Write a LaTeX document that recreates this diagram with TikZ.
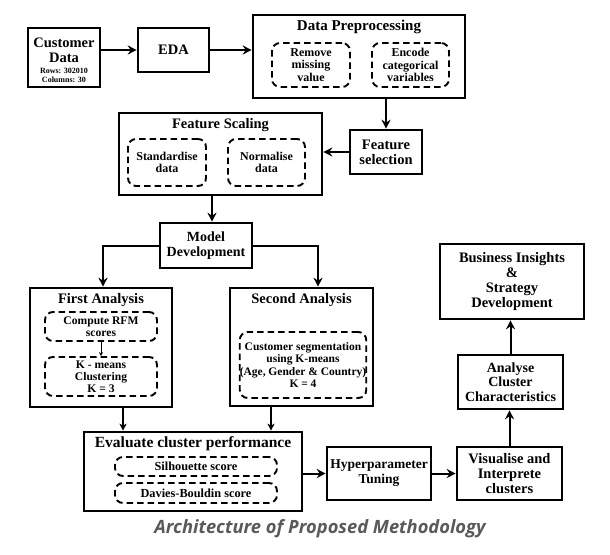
\documentclass[tikz,border=0pt]{standalone}
\usepackage{fontspec}
\setmainfont{Liberation Serif}
\newfontfamily\capfont{Open Sans}
\usetikzlibrary{arrows.meta,calc}
\definecolor{capgray}{HTML}{5A5A5A}
\begin{document}
\begin{tikzpicture}[x=1pt,y=-1pt,
  box/.style={draw, line width=2.6pt, inner sep=0pt, align=center,
    font=\bfseries\fontsize{14.5}{15}\selectfont},
  sub/.style={draw, line width=1.9pt, dash pattern=on 6.5pt off 4pt,
    rounded corners=8pt, inner sep=0pt, align=center,
    font=\bfseries\fontsize{12}{12.5}\selectfont},
  ttl/.style={inner sep=0pt, align=center, font=\bfseries\fontsize{14.5}{15}\selectfont},
  arr/.style={line width=2pt, -{Stealth[length=9pt,width=9pt,inset=3pt]}},
  sarr/.style={line width=1.4pt, -{Stealth[length=7pt,width=7pt,inset=2pt]}},
  tarr/.style={line width=0.8pt, -{Stealth[length=4pt,width=4pt]}},
]
\path[fill=white,use as bounding box] (0,0) rectangle (610,554);

% Customer data
\node[box, minimum width=72pt, minimum height=59pt] (cd) at (64,57.5) {};
\node[ttl] (cdT) at (64,50.5) {Customer\\Data};
\node[inner sep=0pt, align=center, font=\bfseries\fontsize{8}{8.5}\selectfont] (cdS) at (64,75.5) {Rows: 302010\\Columns: 30};

% EDA
\node[box, minimum width=71pt, minimum height=44pt] (eda) at (173.5,50) {EDA};

% Data preprocessing
\node[box, minimum width=212pt, minimum height=83pt] (dp) at (359,56.5) {};
\node[ttl, font=\bfseries\fontsize{15}{15}\selectfont] (dpT) at (359,27) {Data Preprocessing};
\node[sub, minimum width=78pt, minimum height=44pt] (rm) at (311,65) {Remove\\missing\\value};
\node[sub, minimum width=77pt, minimum height=44pt] (enc) at (410.5,65) {Encode\\categorical\\variables};

% Feature selection
\node[box, minimum width=72pt, minimum height=44pt] (fsel) at (386,152) {Feature\\selection};

% Feature scaling
\node[box, minimum width=203pt, minimum height=82pt] (fsc) at (220.5,154) {};
\node[ttl] (fscT) at (220.5,125) {Feature Scaling};
\node[sub, minimum width=78pt, minimum height=47pt] (std) at (167,162.5) {Standardise\\data};
\node[sub, minimum width=77pt, minimum height=47pt] (nrm) at (266.5,162.5) {Normalise\\data};

% Model development
\node[box, minimum width=92pt, minimum height=45pt, font=\bfseries\fontsize{14}{15}\selectfont] (md) at (206,245.5) {Model\\Development};

% First analysis
\node[box, minimum width=142pt, minimum height=119pt] (fa) at (101,347.5) {};
\node[ttl] (faT) at (101,300) {First Analysis};
\node[sub, minimum width=112pt, minimum height=29pt, font=\bfseries\fontsize{11.6}{12.5}\selectfont] (rfm) at (101,326.5) {Compute RFM\\scores};
\node[sub, minimum width=112pt, minimum height=39pt, font=\bfseries\fontsize{11.6}{12}\selectfont] (km) at (101,376.5) {K - means\\Clustering\\K = 3};

% Second analysis
\node[box, minimum width=143pt, minimum height=118pt] (sa) at (301.5,347) {};
\node[ttl] (saT) at (301.5,300) {Second Analysis};
\node[sub, minimum width=126pt, minimum height=66pt, font=\bfseries\fontsize{11.5}{12.3}\selectfont] (seg) at (303,365) {Customer segmentation\\using K-means\\(Age, Gender \& Country)\\K = 4};

% Evaluate
\node[box, minimum width=218pt, minimum height=79pt] (ev) at (193,471.5) {};
\node[ttl, font=\bfseries\fontsize{15.5}{16}\selectfont] (evT) at (193,444) {Evaluate cluster performance};
\node[sub, minimum width=162pt, minimum height=19pt, font=\bfseries\fontsize{12.3}{12.5}\selectfont] (sil) at (196,466.5) {Silhouette score};
\node[sub, minimum width=162pt, minimum height=20pt, font=\bfseries\fontsize{12.3}{12.5}\selectfont] (db) at (196,493) {Davies-Bouldin score};

% Hyperparameter, visualise, analyse, business
\node[box, minimum width=104pt, minimum height=53pt, font=\bfseries\fontsize{13.5}{15}\selectfont] (hp) at (379,473.5) {Hyperparameter\\Tuning};
\node[box, minimum width=105pt, minimum height=53pt] (vis) at (509.5,473.5) {Visualise and\\Interprete\\clusters};
\node[box, minimum width=105pt, minimum height=54pt, font=\bfseries\fontsize{14}{14.5}\selectfont] (an) at (510.5,382) {Analyse\\Cluster\\Characteristics};
\node[box, minimum width=144pt, minimum height=75pt] (bi) at (512,281.5) {Business Insights\\\&\\Strategy\\Development};

% caption
\node[inner sep=0pt, text=capgray, font=\capfont\bfseries\itshape\fontsize{18.3}{18}\selectfont] (cap) at (320,529) {Architecture of Proposed Methodology};

% connectors
\draw[arr] (cd.east |- eda.west) -- (eda.west);
\draw[arr] (eda.east) -- (eda.east -| dp.west);
\draw[arr] (fsel.north |- dp.south) -- (fsel.north);
\draw[arr] (fsel.west) -- (fsel.west -| fsc.east);
\draw[arr] ([xshift=-8.5pt]fsc.south) -- ([xshift=-8.5pt]fsc.south |- md.north);
\draw[arr] (md.west) -| ([xshift=2pt]fa.north);
\draw[arr] (md.east) -| ([xshift=16.5pt]sa.north);
\draw[tarr] (rfm.south) -- (km.north);
\draw[sarr] ([xshift=22pt]fa.south) -- ([xshift=22pt]fa.south |- ev.north);
\draw[sarr] ([xshift=-30.5pt]sa.south) -- ([xshift=-30.5pt]sa.south |- ev.north);
\draw[arr] (ev.east |- hp.west) -- (hp.west);
\draw[arr] (hp.east) -- (hp.east -| vis.west);
\draw[arr] (vis.north) -- (vis.north |- an.south);
\draw[arr] (an.north) -- (an.north |- bi.south);
\end{tikzpicture}
\end{document}
